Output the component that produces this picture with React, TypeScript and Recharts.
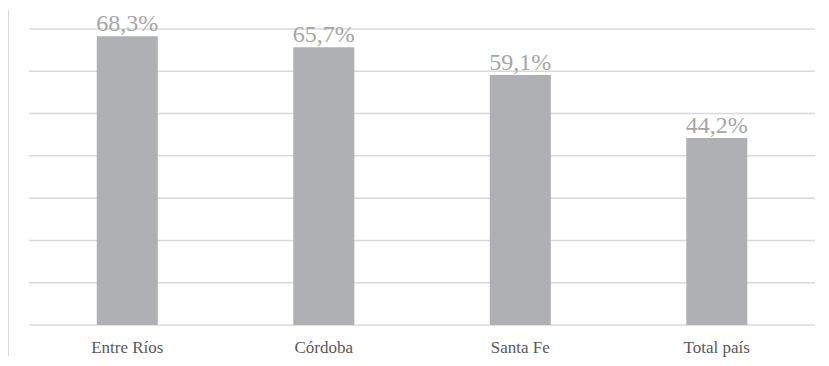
import React from 'react';
import { BarChart, Bar, XAxis, YAxis, CartesianGrid, LabelList } from 'recharts';

const categories = ['Entre Ríos', 'Córdoba', 'Santa Fe', 'Total país'];
const values = [68.3, 65.7, 59.1, 44.2];
const yTicks = [0, 10, 20, 30, 40, 50, 60, 70];

const data = categories.map((name, i) => ({ name, value: values[i] }));

const FONT = '"Liberation Serif", "DejaVu Serif", serif';

const fmt = (v: any) => `${Number(v).toFixed(1).replace('.', ',')}%`;

const App: React.FC = () => {
  return (
    <div style={{ position: 'absolute', left: 0, top: 0, width: 829, height: 366, background: '#fff' }}>
      <div
        style={{
          position: 'absolute',
          left: 8,
          top: 10,
          width: 0,
          height: 346,
          borderLeft: '1px solid #d9d9d9',
        }}
      />
      <BarChart
        width={829}
        height={366}
        data={data}
        margin={{ top: 29, right: 14, bottom: 11, left: 29 }}
        barCategoryGap="34.5%"
      >
        <CartesianGrid vertical={false} stroke="#d9d9d9" strokeWidth={1.5} />
        <YAxis hide domain={[0, 70]} ticks={yTicks} />
        <XAxis
          dataKey="name"
          height={30}
          axisLine={false}
          tickLine={false}
          tickMargin={10}
          tick={{ fill: '#595959', fontSize: 17, fontFamily: FONT }}
        />
        <Bar dataKey="value" fill="#afb0b3" isAnimationActive={false}>
          <LabelList
            dataKey="value"
            position="top"
            offset={5}
            formatter={fmt}
            style={{ fill: '#a6a6a6', fontSize: 24, fontFamily: FONT }}
          />
        </Bar>
      </BarChart>
    </div>
  );
};

export default App;
